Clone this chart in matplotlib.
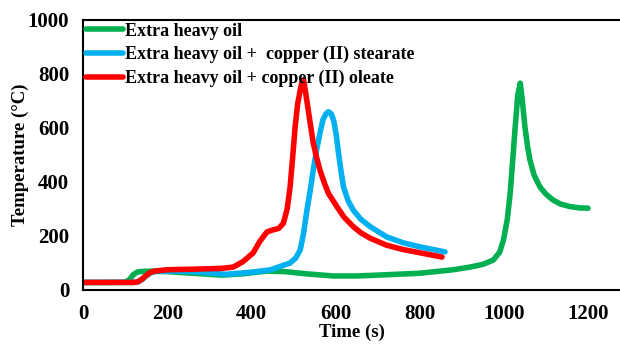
import matplotlib.pyplot as plt

# tiempos (s) y temperaturas (°C)
t_oil = [0, 60, 100, 110, 120, 130, 145, 170, 200, 260, 330, 380, 437, 480, 530, 594,
         650, 700, 800, 880, 920, 950, 975, 990, 999, 1008, 1015, 1021, 1027, 1033,
         1039, 1044, 1050, 1056, 1062, 1072, 1086, 1100, 1117, 1135, 1157, 1180, 1200]
temp_oil = [28, 28, 29, 38, 58, 67, 69, 70, 68, 62, 55, 60, 70, 68, 60, 52,
            52, 55, 62, 75, 85, 95, 111, 140, 185, 260, 358, 480, 605, 720,
            766, 700, 605, 535, 481, 425, 381, 355, 333, 318, 309, 304, 303]

t_stearate = [0, 60, 120, 130, 140, 150, 160, 170, 200, 260, 340, 400, 444, 492, 505,
              516, 524, 532, 540, 547, 555, 563, 570, 577, 583, 590, 596, 602, 607,
              613, 619, 630, 642, 660, 682, 721, 760, 800, 860]
temp_stearate = [28, 28, 28, 30, 38, 52, 63, 68, 70, 68, 58, 66, 74, 100, 118,
                 148, 210, 296, 370, 444, 520, 581, 630, 652, 660, 652, 625, 570, 507,
                 440, 381, 330, 296, 262, 235, 197, 175, 160, 141]

t_oleate = [0, 60, 120, 130, 140, 150, 160, 170, 200, 260, 330, 357, 380, 404, 420,
            437, 450, 465, 476, 485, 492, 498, 504, 510, 516, 520, 524, 530, 535,
            541, 547, 555, 563, 573, 583, 603, 620, 642, 660, 682, 721, 760, 800, 853]
temp_oleate = [28, 28, 28, 30, 40, 54, 65, 70, 75, 77, 80, 85, 105, 137, 180,
               215, 222, 228, 247, 300, 382, 490, 605, 690, 740, 768, 778, 720, 667,
               605, 544, 490, 444, 398, 358, 309, 270, 235, 212, 192, 166, 150, 138, 122]

etiquetas = ['Extra heavy oil',
             'Extra heavy oil +  copper (II) stearate',
             'Extra heavy oil + copper (II) oleate']
colores = ['#00B050', '#00B0F0', '#FF0000']


def main():
    plt.rcParams['font.family'] = ['Liberation Serif', 'DejaVu Serif']
    plt.rcParams['font.weight'] = 'bold'
    fig = plt.figure(figsize=(6.2, 3.44), dpi=100)
    ax = fig.add_axes([0.134, 0.157, 0.866, 0.785])

    series = [(t_oil, temp_oil), (t_stearate, temp_stearate), (t_oleate, temp_oleate)]
    for (t, temp), nombre, color in zip(series, etiquetas, colores):
        ax.plot(t, temp, color=color, lw=4, label=nombre,
                solid_capstyle='round', solid_joinstyle='round')

    ax.set_xlim(0, 1276)
    ax.set_ylim(0, 1000)
    ax.set_xticks([0, 200, 400, 600, 800, 1000, 1200])
    ax.set_yticks([0, 200, 400, 600, 800, 1000])
    ax.tick_params(length=0, labelsize=15, pad=10)
    for lbl in ax.get_xticklabels() + ax.get_yticklabels():
        lbl.set_fontweight('bold')
    ax.spines['right'].set_visible(False)
    for s in ['left', 'top', 'bottom']:
        ax.spines[s].set_linewidth(1.5)

    ax.set_xlabel('Time (s)', fontsize=13.5, fontweight='bold', labelpad=0)
    ax.set_ylabel('Temperature (°C)', fontsize=13.5, fontweight='bold', labelpad=-1)

    ax.legend(loc='upper left', frameon=False, handlelength=2.05,
              handletextpad=0.1, labelspacing=0.36, borderaxespad=0.15,
              borderpad=0.0, prop={'weight': 'bold', 'size': 13})

    fig.savefig('out.png', dpi=100)
    plt.close(fig)


if __name__ == '__main__':
    main()
